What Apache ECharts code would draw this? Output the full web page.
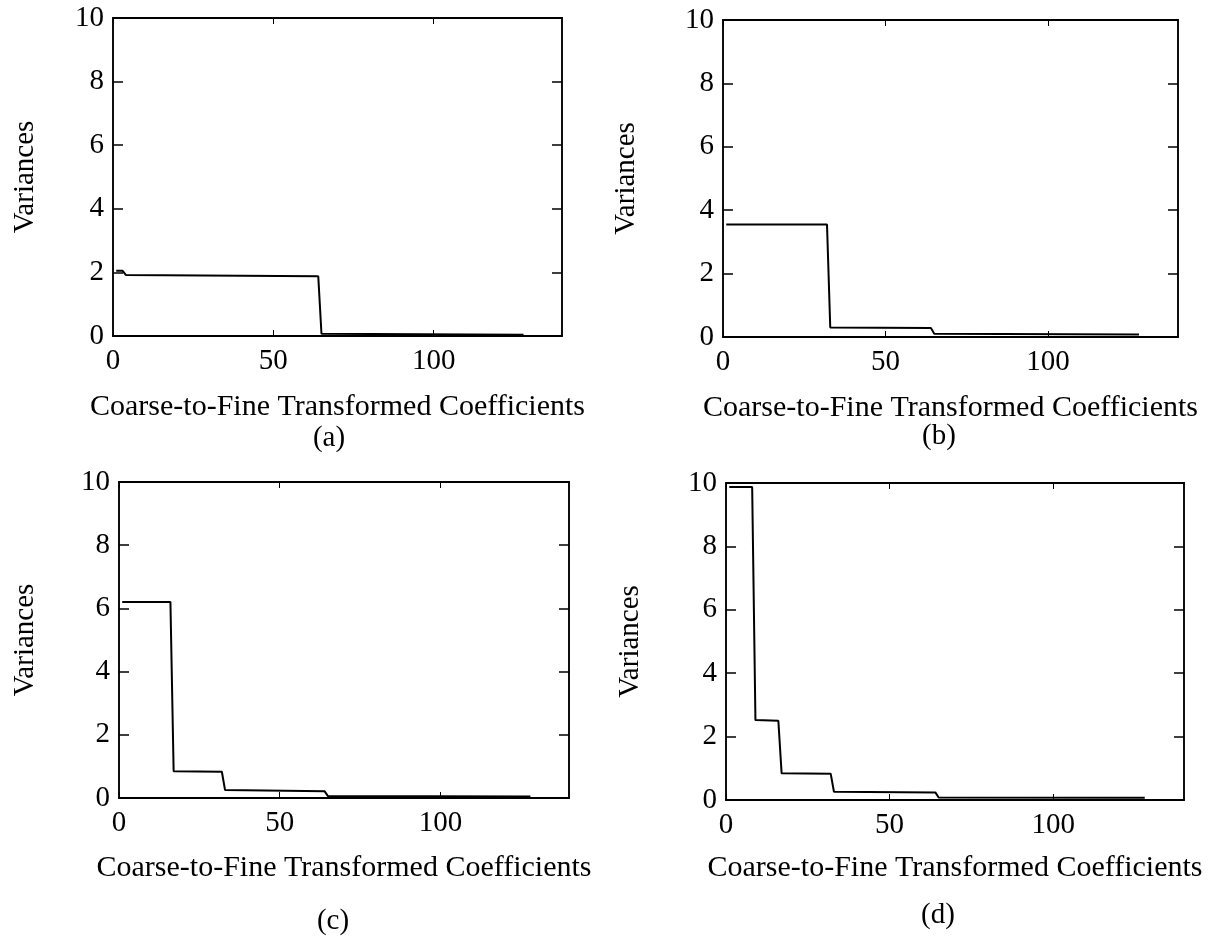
<!DOCTYPE html>
<html>
<head>
<meta charset="utf-8">
<script src="https://cdn.jsdelivr.net/npm/echarts@6/dist/echarts.min.js"></script>
<style>
html,body{margin:0;padding:0;background:#fff;}
#chart{width:1219px;height:939px;}
</style>
</head>
<body>
<div id="chart"></div>
<script>
// ---- data ----
const panelLabels = ['(a)', '(b)', '(c)', '(d)'];
const xTitle = 'Coarse-to-Fine Transformed Coefficients';
const yTitle = 'Variances';
const xTicks = [0, 50, 100];
const yTicks = [0, 2, 4, 6, 8, 10];

const coeffA = [1, 3, 4, 64, 65, 128];
const varA   = [2.05, 2.05, 1.92, 1.88, 0.07, 0.04];

const coeffB = [1, 32, 33, 64, 65, 128];
const varB   = [3.55, 3.55, 0.30, 0.28, 0.10, 0.08];

const coeffC = [1, 16, 17, 32, 33, 64, 65, 128];
const varC   = [6.2, 6.2, 0.85, 0.83, 0.25, 0.21, 0.06, 0.05];

const coeffD = [1, 8, 9, 16, 17, 32, 33, 64, 65, 128];
const varD   = [9.87, 9.87, 2.52, 2.50, 0.84, 0.83, 0.26, 0.24, 0.08, 0.07];

const series = [[coeffA, varA], [coeffB, varB], [coeffC, varC], [coeffD, varD]];

// ---- layout ----
const grids = [
  {left: 113, top: 18, width: 449, height: 318},
  {left: 723, top: 20, width: 455, height: 317},
  {left: 119, top: 482, width: 450, height: 316},
  {left: 726, top: 483, width: 458, height: 317}
];
const xNameGap = [56, 56, 55, 53];
const yNameGap = [73, 82, 79, 81];
const panelLabelPos = [[329, 438], [939, 436], [333, 921], [938, 915]];

const FONT = '"Liberation Serif", "Times New Roman", serif';
const FS = 29;
const black = '#000';

const option = {
  animation: false,
  backgroundColor: '#fff',
  grid: grids.map(g => Object.assign({show: true, borderColor: black, borderWidth: 1.5, backgroundColor: 'transparent'}, g)),
  xAxis: [],
  yAxis: [],
  series: [],
  graphic: []
};

grids.forEach((g, i) => {
  // bottom x axis
  option.xAxis.push({
    type: 'value', gridIndex: i, position: 'bottom', min: 0, max: 140, interval: 50,
    name: xTitle, nameLocation: 'middle', nameGap: xNameGap[i],
    nameTextStyle: {fontFamily: FONT, fontSize: 30, color: black},
    axisLine: {show: true, onZero: false, lineStyle: {color: black, width: 2}},
    axisTick: {show: true, inside: true, length: 6, lineStyle: {color: black}, customValues: xTicks},
    axisLabel: {fontFamily: FONT, fontSize: FS, color: black, margin: 11, customValues: xTicks},
    splitLine: {show: false}
  });
  // top x axis (ticks only)
  option.xAxis.push({
    type: 'value', gridIndex: i, position: 'top', min: 0, max: 140, interval: 50,
    axisLine: {show: true, onZero: false, lineStyle: {color: black, width: 2}},
    axisTick: {show: true, inside: true, length: 6, lineStyle: {color: black}, customValues: xTicks},
    axisLabel: {show: false},
    splitLine: {show: false}
  });
  // left y axis
  option.yAxis.push({
    type: 'value', gridIndex: i, position: 'left', min: 0, max: 10, interval: 2,
    name: yTitle, nameLocation: 'middle', nameGap: yNameGap[i], nameRotate: 90,
    nameTextStyle: {fontFamily: FONT, fontSize: FS, color: black},
    axisLine: {show: true, onZero: false, lineStyle: {color: black, width: 1.5}},
    axisTick: {show: true, inside: true, length: 10, lineStyle: {color: black, width: 1.5}, customValues: yTicks},
    axisLabel: {fontFamily: FONT, fontSize: FS, color: black, margin: 9, customValues: yTicks},
    splitLine: {show: false}
  });
  // right y axis (ticks only)
  option.yAxis.push({
    type: 'value', gridIndex: i, position: 'right', min: 0, max: 10, interval: 2,
    axisLine: {show: true, onZero: false, lineStyle: {color: black, width: 1.5}},
    axisTick: {show: true, inside: true, length: 10, lineStyle: {color: black, width: 1.5}, customValues: yTicks},
    axisLabel: {show: false},
    splitLine: {show: false}
  });
  const [xs, ys] = series[i];
  option.series.push({
    type: 'line', xAxisIndex: 2 * i, yAxisIndex: 2 * i,
    data: xs.map((x, k) => [x, ys[k]]),
    symbol: 'none', silent: true,
    lineStyle: {color: black, width: 2},
    itemStyle: {color: black}
  });
  option.graphic.push({
    type: 'text', x: panelLabelPos[i][0], y: panelLabelPos[i][1],
    style: {text: panelLabels[i], font: FS + 'px ' + FONT, fill: black,
      align: 'center', verticalAlign: 'middle', textAlign: 'center', textVerticalAlign: 'middle'}
  });
});

const chart = echarts.init(document.getElementById('chart'), null, {renderer: 'canvas'});
chart.setOption(option);
</script>
</body>
</html>
